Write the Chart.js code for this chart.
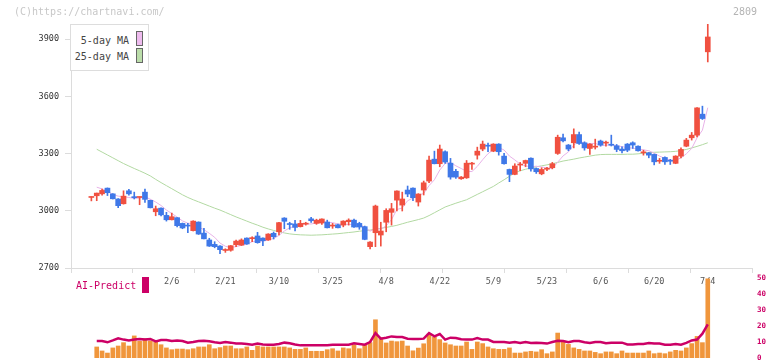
<!DOCTYPE html>
<html>
<head>
<meta charset="utf-8">
<script src="https://cdn.jsdelivr.net/npm/chart.js@4.4.1/dist/chart.umd.min.js"></script>
<style>
html, body { margin: 0; padding: 0; background: #fff; }
#wrap { position: relative; width: 772px; height: 361px; overflow: hidden; font-family: "DejaVu Sans Mono", monospace; }
canvas { position: absolute; left: 0; top: 0; }
.txt { position: absolute; font-size: 10px; line-height: 12px; white-space: nowrap; }
.sw { position: absolute; width: 5px; height: 13px; border: 1px solid #666; }
</style>
</head>
<body>
<div id="wrap">
    <canvas id="mainChart" width="772" height="361"></canvas>
    <canvas id="volChart" width="772" height="361"></canvas>
    <div class="txt" style="left:14px;top:6px;color:#c8c8c8;">(C)https://chartnavi.com/</div>
    <div class="txt" style="left:733px;top:6px;color:#b4b4b4;">2809</div>
    <div style="position:absolute;left:70px;top:24px;width:77px;height:45px;border:1px solid #ddd;background:#fff;"></div>
    <div class="txt" style="left:70px;top:35px;width:59px;text-align:right;color:#444;">5-day MA</div>
    <div class="sw" style="left:136px;top:31px;background:#eebbee;"></div>
    <div class="txt" style="left:70px;top:51px;width:59px;text-align:right;color:#444;">25-day MA</div>
    <div class="sw" style="left:136px;top:48px;background:#bbddaa;"></div>
    <div class="txt" style="left:76px;top:280px;color:#cc0066;">AI-Predict</div>
    <div style="position:absolute;left:142px;top:277px;width:7px;height:16px;background:#cc0066;"></div>
</div>
<script>
// trading days shown (2025)
const dates = [
    '1/16','1/17','1/20','1/21','1/22','1/23','1/24','1/27','1/28','1/29','1/30','1/31',
    '2/3','2/4','2/5','2/6','2/7','2/10','2/12','2/13','2/14','2/17','2/18','2/19','2/20','2/21','2/25','2/26','2/27','2/28',
    '3/3','3/4','3/5','3/6','3/7','3/10','3/11','3/12','3/13','3/14','3/17','3/18','3/19','3/21','3/24','3/25','3/26','3/27','3/28','3/31',
    '4/1','4/2','4/3','4/4','4/7','4/8','4/9','4/10','4/11','4/14','4/15','4/16','4/17','4/18','4/21','4/22','4/23','4/24','4/25','4/28','4/30',
    '5/1','5/2','5/7','5/8','5/9','5/12','5/13','5/14','5/15','5/16','5/19','5/20','5/21','5/22','5/23','5/26','5/27','5/28','5/29','5/30',
    '6/2','6/3','6/4','6/5','6/6','6/9','6/10','6/11','6/12','6/13','6/16','6/17','6/18','6/19','6/20','6/23','6/24','6/25','6/26','6/27','6/30',
    '7/1','7/2','7/3','7/4'
];

const opens = [3070,3079,3089,3119,3089,3062,3037,3105,3071,3070, 3098,3055,2995,3014,2976,2953,2964,2934,2923,2896,
    2941,2883,2847,2824,2815,2792,2793,2822,2820,2857, 2854,2868,2857,2847,2882,2890,2962,2930,2931,2917,
    2930,2958,2934,2936,2941,2920,2927,2925,2943,2951, 2934,2917,2812,2885,2873,2940,2992,3056,3030,3109,
    3119,3046,3109,3156,3271,3247,3310,3250,3207,3168, 3173,3245,3292,3324,3343,3313,3350,3287,3217,3191,
    3240,3249,3276,3222,3194,3218,3226,3301,3383,3345, 3357,3400,3357,3327,3334,3366,3355,3346,3341,3324,
    3350,3357,3339,3304,3304,3296,3260,3280,3262,3249, 3287,3339,3383,3397,3507,3834];
const highs = [3074,3093,3114,3120,3090,3064,3105,3113,3098,3073, 3114,3056,3025,3016,2992,2988,2965,2936,2934,2948,
    2942,2908,2856,2838,2817,2801,2818,2847,2853,2858, 2864,2887,2858,2880,2889,2940,2964,2940,2950,2950,
    2940,2966,2956,2958,2951,2934,2930,2948,2958,2957, 2940,2920,2838,3030,2940,3011,3039,3105,3098,3130,
    3121,3090,3156,3287,3313,3345,3315,3275,3217,3180, 3264,3254,3334,3366,3355,3352,3352,3301,3219,3247,
    3254,3266,3278,3225,3226,3228,3254,3397,3402,3348, 3430,3413,3362,3353,3376,3371,3366,3397,3348,3336,
    3353,3362,3341,3318,3306,3298,3275,3283,3270,3289, 3330,3380,3411,3542,3549,3979];
const lows = [3052,3053,3082,3080,3062,3016,3035,3082,3062,3032, 3044,3015,2974,2973,2946,2952,2916,2906,2885,2894,
    2876,2852,2813,2806,2775,2782,2788,2812,2818,2824, 2838,2830,2817,2845,2852,2873,2906,2903,2894,2915,
    2925,2939,2929,2929,2910,2908,2910,2916,2925,2913, 2903,2848,2800,2812,2815,2890,2925,3000,2999,3074,
    3053,3025,3083,3147,3246,3231,3248,3166,3170,3165, 3170,3217,3271,3315,3310,3310,3292,3245,3153,3189,
    3210,3231,3208,3196,3189,3210,3220,3296,3362,3315, 3330,3348,3318,3296,3324,3339,3339,3340,3310,3304,
    3310,3327,3313,3292,3278,3241,3249,3243,3243,3247, 3278,3336,3371,3388,3479,3781];
const closes = [3072,3093,3107,3095,3063,3027,3077,3089,3069,3072, 3060,3016,3011,2979,2953,2969,2922,2910,2920,2946,
    2878,2853,2815,2812,2796,2794,2817,2841,2847,2826, 2857,2833,2843,2878,2864,2938,2945,2928,2913,2934,
    2933,2948,2951,2957,2911,2923,2911,2946,2951,2915, 2915,2850,2836,3025,2894,3002,3011,3104,3062,3088,
    3069,3088,3147,3266,3247,3324,3256,3177,3177,3177, 3250,3250,3313,3350,3339,3350,3310,3247,3191,3235,
    3244,3264,3220,3205,3217,3221,3247,3386,3367,3324, 3400,3353,3330,3350,3337,3345,3358,3344,3322,3315,
    3318,3345,3315,3307,3292,3257,3263,3257,3260,3287, 3322,3371,3397,3540,3484,3912];

// moving averages as drawn on the chart
const ma5 = [null,3124,3115,3104,3086,3077,3074,3070,3065,3067, 3073,3061,3046,3028,3004,2986,2967,2947,2935,2933,
    2915,2901,2882,2861,2831,2814,2807,2812,2819,2825, 2838,2841,2841,2847,2855,2871,2894,2911,2918,2932,
    2931,2931,2936,2945,2940,2938,2931,2930,2928,2929, 2928,2915,2893,2908,2904,2921,2954,3007,3015,3053,
    3067,3082,3091,3132,3163,3214,3248,3254,3236,3222, 3207,3206,3233,3268,3300,3320,3332,3319,3287,3267,
    3245,3236,3231,3234,3230,3225,3222,3255,3288,3309, 3345,3366,3355,3351,3354,3343,3344,3347,3341,3337,
    3331,3329,3323,3320,3315,3303,3287,3275,3266,3265, 3278,3299,3327,3383,3423,3541];
const ma25 = [null,3323,3308,3293,3278,3263,3248,3235,3222,3210, 3197,3183,3165,3148,3132,3116,3100,3084,3070,3058,
    3047,3036,3025,3014,3004,2992,2980,2968,2957,2946, 2935,2925,2914,2905,2897,2890,2884,2879,2876,2874,
    2873,2872,2873,2874,2876,2878,2880,2883,2886,2889, 2893,2896,2899,2904,2908,2913,2918,2924,2932,2940,
    2947,2954,2962,2975,2990,3005,3020,3030,3040,3049, 3058,3072,3086,3100,3114,3128,3146,3163,3181,3200,
    3210,3218,3225,3231,3236,3241,3247,3254,3261,3266, 3271,3277,3282,3287,3292,3295,3296,3296,3296,3296,
    3297,3297,3299,3302,3305,3307,3308,3309,3310,3312, 3316,3322,3330,3338,3347,3357];

// volume panel (0-50 scale)
const volumes = [null,6.9,4.4,3.1,6.3,7.5,9.6,7.5,13.8,10.4, 12.1,10.6,10,8.3,6.3,5.2,5.6,5.6,5.2,5.8,
    6.9,6.9,8.3,5.8,6.5,7.5,7.5,5.8,5.8,6.9, 4.8,7.5,6.9,6.9,6.9,6.9,6.9,6.3,5.4,5.4,
    6.3,4.2,4.2,4.2,5.2,5.8,4.4,6.3,5.8,8.3, 5.8,8.3,9.6,23.9,12.7,9.4,10.6,10.2,10.6,7.5,
    4.5,6.2,8.9,15,13,11.5,9.4,8.3,7.5,7.5, 10,5.4,10,9,6.9,5.8,5.4,5.4,6.3,3.1,
    3.1,3.8,4.2,3.8,5.2,2.7,3.8,15.6,10.6,8.5, 6.3,5.4,4.4,4.4,3.5,2.7,3.8,3.8,2.7,4.4,
    3.1,3.1,3.1,3.1,4.4,2.7,3.1,2.7,3.8,4.8, 4.4,6.3,9,13.5,9.6,49.5];
const aiPredict = [null,10.6,10.6,9.8,11,12.3,11.5,11,11.5,11.9, 11.5,11.9,10.4,11.3,11.3,10.6,11,10.6,9.6,10,
    10.6,10.8,10.4,9.8,9.4,10,9.6,9,9,8.8, 8.3,9,8.5,8.3,8.3,8.8,9.6,9.2,8.5,7.9,
    7.9,7.9,7.9,7.9,7.9,8.3,8.3,8.3,8.3,9.2, 8.8,8.3,10,15.6,12.1,12.7,13.5,13.1,13.1,12.1,
    11.9,11.9,12.1,15.6,13.5,15,11.5,12.7,12.5,11.7, 11.5,11.5,12.5,11.5,11.5,10,10,10,9.6,10,
    9.4,10,9.4,9.6,9.4,9,10,10.8,10.6,9.8, 10.6,10.6,9.8,9.4,10,10,9.2,9.6,9.6,9.6,
    8.5,8.5,8.8,8.8,9.4,9,9,8.3,8.3,8.8, 8.3,9.4,11,11.5,15.2,21];

const priceTicks = [2700, 3000, 3300, 3600, 3900];
const volTicks = [0, 10, 20, 30, 40, 50];
const labelEvery = 10, firstLabel = 15;

const UP = '#f05040', DOWN = '#3f78e8';
const FONT = '"DejaVu Sans Mono", monospace';
const X_MIN = -3.8, X_MAX = 123.25;

Chart.defaults.animation = false;
Chart.defaults.events = [];
Chart.defaults.plugins.legend.display = false;
Chart.defaults.plugins.tooltip.enabled = false;

const candleColors = opens.map((o, i) => closes[i] >= o ? UP : DOWN);
const pts = arr => arr.map((v, i) => ({ x: i, y: v }));

new Chart(document.getElementById('mainChart'), {
    type: 'bar',
    data: {
        datasets: [{
            data: opens.map((o, i) => ({ x: i, y: [o, closes[i]] })),
            backgroundColor: candleColors,
            barThickness: 5,
            minBarLength: 1,
            grouped: false
        }, {
            data: lows.map((l, i) => ({ x: i, y: [l, highs[i]] })),
            backgroundColor: candleColors,
            barThickness: 1,
            grouped: false
        }, {
            type: 'line',
            data: pts(ma5),
            borderColor: '#e8b2e8',
            borderWidth: 1,
            pointRadius: 0,
            tension: 0
        }, {
            type: 'line',
            data: pts(ma25),
            borderColor: '#b2d9a2',
            borderWidth: 1,
            pointRadius: 0,
            tension: 0
        }]
    },
    options: {
        responsive: false,
        devicePixelRatio: 1,
        layout: { padding: { left: 0, right: 20, top: 24, bottom: 0 } },
        scales: {
            x: {
                type: 'linear', min: X_MIN, max: X_MAX, offset: false, position: 'bottom', weight: 0,
                afterBuildTicks: s => {
                    s.ticks = [];
                    for (let k = 0; k <= 11; k++) s.ticks.push({ value: s.min + (s.max - s.min) * k / 11 });
                },
                ticks: { display: false },
                grid: { drawOnChartArea: false, offset: false, color: '#dcdcdc', tickLength: 5 },
                border: { color: '#dcdcdc' },
                afterFit: s => { s.height = 5; }
            },
            xd: {
                type: 'linear', min: X_MIN, max: X_MAX, offset: false, position: 'bottom', weight: 1,
                afterBuildTicks: s => {
                    s.ticks = dates.map((d, i) => i)
                        .filter(i => i >= firstLabel && (i - firstLabel) % labelEvery === 0)
                        .map(v => ({ value: v }));
                },
                ticks: {
                    callback: v => dates[v],
                    font: { family: FONT, size: 8.5 },
                    color: '#555',
                    padding: 4,
                    maxRotation: 0,
                    autoSkip: false
                },
                grid: { display: false, drawTicks: false },
                border: { display: false },
                afterFit: s => { s.height = 88; }
            },
            y: {
                min: 2700, max: 3980, position: 'left',
                afterBuildTicks: s => { s.ticks = priceTicks.map(v => ({ value: v })); },
                ticks: { font: { family: FONT, size: 8.5 }, color: '#333', padding: 6, callback: v => String(v) },
                grid: { drawOnChartArea: false, color: '#dcdcdc', tickLength: 6 },
                border: { color: '#dcdcdc' },
                afterFit: s => { s.width = 71; }
            }
        }
    }
});

new Chart(document.getElementById('volChart'), {
    type: 'bar',
    data: {
        datasets: [{
            type: 'line',
            data: pts(aiPredict),
            borderColor: '#cc0066',
            borderWidth: 2.5,
            pointRadius: 0,
            tension: 0
        }, {
            data: pts(volumes),
            backgroundColor: '#f0963c',
            barThickness: 4,
            grouped: false
        }]
    },
    options: {
        responsive: false,
        devicePixelRatio: 1,
        layout: { padding: { left: 71, right: 0, top: 278, bottom: 3 } },
        scales: {
            x: { type: 'linear', min: X_MIN, max: X_MAX, offset: false, display: false },
            y: {
                min: 0, max: 50, position: 'right',
                afterBuildTicks: s => { s.ticks = volTicks.map(v => ({ value: v })); },
                ticks: { font: { family: FONT, size: 7.5, weight: 'bold' }, color: '#cc0066', padding: 5 },
                grid: { display: false, drawTicks: false },
                border: { display: false },
                afterFit: s => { s.width = 20; s.paddingTop = 0; s.paddingBottom = 0; }
            }
        }
    }
});
</script>
</body>
</html>
